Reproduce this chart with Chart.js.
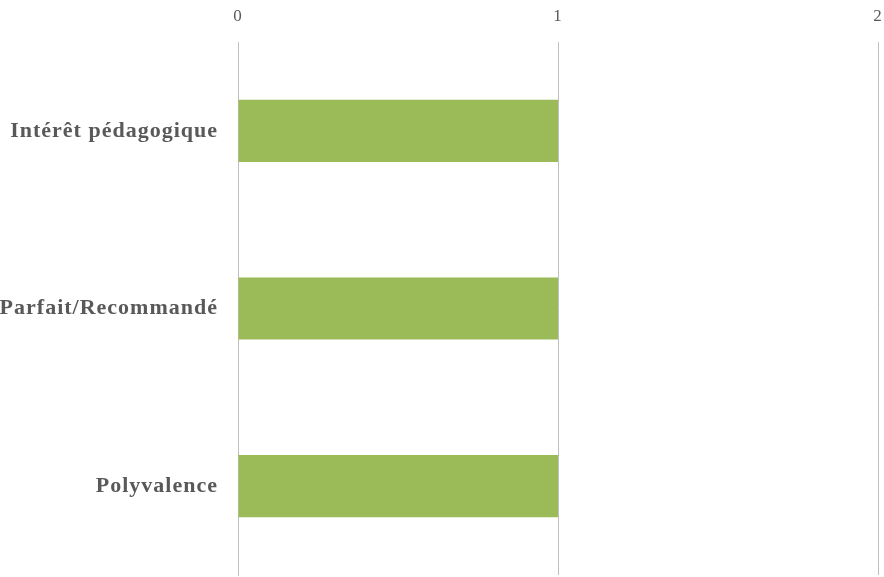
<!DOCTYPE html>
<html>
<head>
<meta charset="utf-8">
<script src="https://cdn.jsdelivr.net/npm/chart.js@4/dist/chart.umd.min.js"></script>
<style>
  html, body { margin: 0; padding: 0; background: #fff; overflow: hidden; }
  canvas { display: block; }
</style>
</head>
<body>
<canvas id="chart" width="884" height="577"></canvas>
<script>
// données
var categories = ["Intérêt pédagogique", "Parfait/Recommandé", "Polyvalence"];
var valeurs = [1, 1, 1];
var xTicks = [0, 1, 2];

// espacement des lettres comme dans l'original
var espacement = {
    id: "espacement",
    beforeDraw: function (chart) { chart.ctx.letterSpacing = "1px"; }
};

var ctx = document.getElementById("chart").getContext("2d");
new Chart(ctx, {
    type: "bar",
    plugins: [espacement],
    data: {
        labels: categories,
        datasets: [{
            label: "Série",
            data: valeurs,
            backgroundColor: "#9BBB59",
            borderWidth: 0,
            barPercentage: 0.7,
            categoryPercentage: 0.5
        }]
    },
    options: {
        responsive: false,
        indexAxis: "y",
        animation: false,
        layout: { padding: { left: 0, right: 6, top: 0, bottom: 2 } },
        plugins: {
            legend: { display: false },
            tooltip: { enabled: false }
        },
        scales: {
            x: {
                position: "top",
                min: xTicks[0],
                max: xTicks[xTicks.length - 1],
                afterBuildTicks: function (scale) {
                    scale.ticks = xTicks.map(function (v) { return { value: v }; });
                },
                afterFit: function (scale) {
                    scale.height = 42;
                    scale.paddingLeft = 0;
                    scale.paddingRight = 0;
                },
                grid: { color: "#BFBFBF", lineWidth: 1, drawTicks: false },
                border: { display: false },
                ticks: {
                    padding: 15,
                    color: "#595959",
                    font: { family: "Liberation Serif", size: 17 }
                }
            },
            y: {
                afterFit: function (scale) {
                    scale.width = 238;
                    scale.paddingTop = 0;
                    scale.paddingBottom = 0;
                },
                grid: { display: false, drawTicks: false },
                border: { display: true, color: "#BFBFBF", width: 1 },
                ticks: {
                    padding: 20,
                    color: "#595959",
                    font: { family: "Liberation Serif", size: 22, weight: "bold" }
                }
            }
        }
    }
});
</script>
</body>
</html>
